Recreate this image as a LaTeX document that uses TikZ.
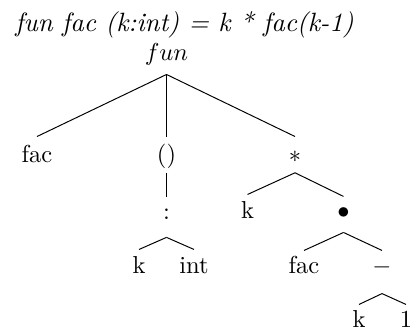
\documentclass[tikz,border=0pt]{standalone}
\usepackage{amsmath}
\usepackage{tikz}

\begin{document}
\begin{tikzpicture}[
    x=0.408pt, y=-0.408pt,
    lbl/.style={
        inner sep=0pt,
        anchor=base,
        text height=9pt,
        text depth=5pt
    },
    branch/.style={
        line width=0.4pt
    }
]
\useasboundingbox (0,0) rectangle (411,329);

% Title
\node[anchor=base west, inner sep=0pt, font=\fontsize{10.8}{13}\selectfont\itshape] (title) at (15,32) {fun fac (k:int) = k * fac(k-1)};

% Nodes (tree)
\node[lbl, text depth=5.3pt] (fun) at (166.5,61) {$fun$};
\node[lbl, text height=10.4pt] (fac) at (37,162.5) {fac};
\node[lbl, text height=10.4pt, text depth=4pt] (paren) at (166.5,162.5) {()};
\node[lbl, text height=10.4pt, text depth=4pt] (times) at (295,162.5) {$*$};
\node[lbl, text height=8.6pt, text depth=7.3pt] (colon) at (166.5,219) {:};
\node[lbl, text height=9.4pt] (k1) at (139,273) {k};
\node[lbl, text height=9.4pt] (int) at (194,273) {int};
\node[lbl, text height=9.4pt] (k2) at (247.5,218) {k};
\node[lbl, text height=8.6pt, text depth=5.7pt] (dot) at (343.5,218) {$\bullet$};
\node[lbl] (fac2) at (304,273) {fac};
\node[lbl, text depth=8.2pt] (minus) at (382,273) {$-$};
\node[lbl] (k3) at (359,327) {k};
\node[lbl] (one) at (406,327) {1};

% Branches
\draw[branch] (fun.south) -- (fac.north);
\draw[branch] (fun.south) -- (paren.north);
\draw[branch] (fun.south) -- (times.north);
\draw[branch] (paren.south) -- (colon.north);
\draw[branch] (colon.south) -- (k1.north);
\draw[branch] (colon.south) -- (int.north);
\draw[branch] (times.south) -- (k2.north);
\draw[branch] (times.south) -- (dot.north);
\draw[branch] (dot.south) -- (fac2.north);
\draw[branch] (dot.south) -- (minus.north);
\draw[branch] (minus.south) -- (k3.north);
\draw[branch] (minus.south) -- (one.north);
\end{tikzpicture}
\end{document}
